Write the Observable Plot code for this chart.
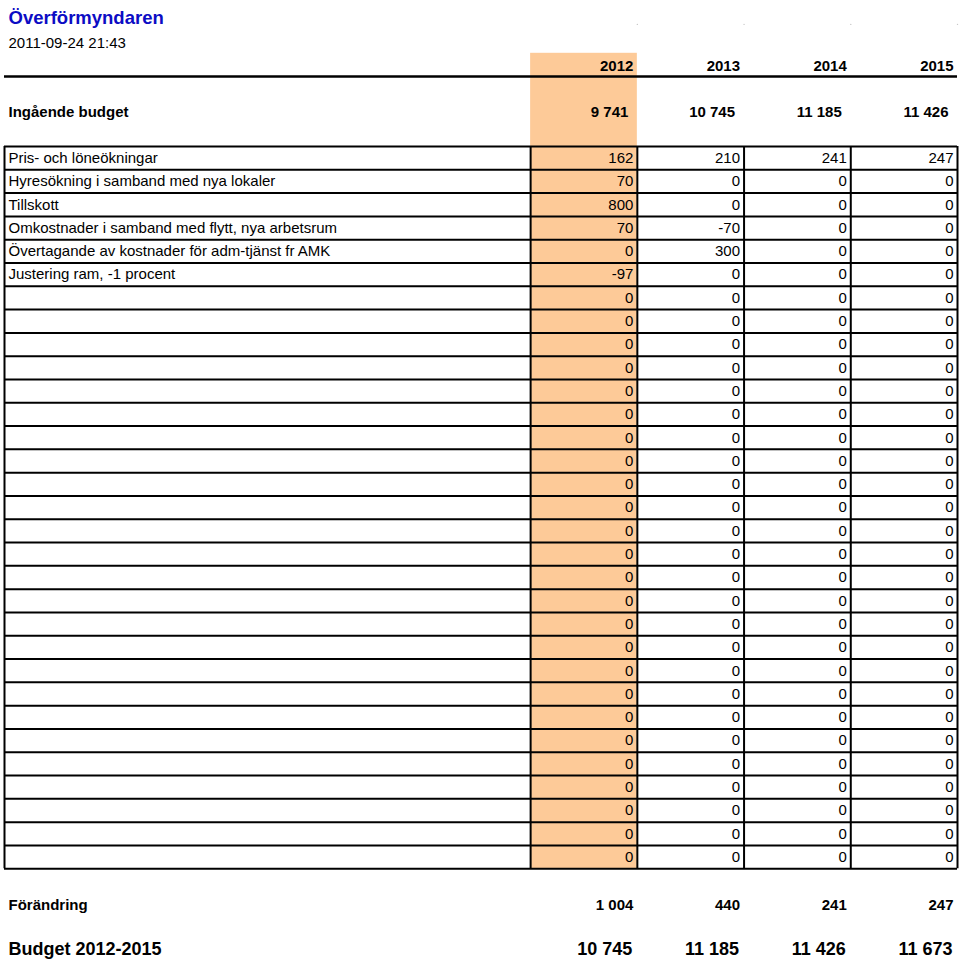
<!DOCTYPE html>
<html>
<head>
<meta charset="utf-8">
<script src="https://cdn.jsdelivr.net/npm/d3@7"></script>
<script src="https://cdn.jsdelivr.net/npm/@observablehq/plot@0.6"></script>
<style>
  html, body { margin: 0; padding: 0; background: #fff; }
  #chart svg { display: block; }
</style>
</head>
<body>
<div id="chart"></div>
<script>
// ---------- data ----------
const title = "Överförmyndaren";
const timestamp = "2011-09-24 21:43";
const years = ["2012", "2013", "2014", "2015"];
const highlightYear = "2012";

const openingLabel = "Ingående budget";
const opening = [9741, 10745, 11185, 11426];

const rowLabels = [
  "Pris- och löneökningar",
  "Hyresökning i samband med nya lokaler",
  "Tillskott",
  "Omkostnader i samband med flytt, nya arbetsrum",
  "Övertagande av kostnader för adm-tjänst fr AMK",
  "Justering ram, -1 procent",
  "", "", "", "", "", "", "", "", "", "", "", "", "", "", "", "", "", "", "", "", "", "", "", "", ""
];
const v2012 = [162, 70, 800, 70, 0, -97, 0, 0, 0, 0, 0, 0, 0, 0, 0, 0, 0, 0, 0, 0, 0, 0, 0, 0, 0, 0, 0, 0, 0, 0, 0];
const v2013 = [210, 0, 0, -70, 300, 0, 0, 0, 0, 0, 0, 0, 0, 0, 0, 0, 0, 0, 0, 0, 0, 0, 0, 0, 0, 0, 0, 0, 0, 0, 0];
const v2014 = [241, 0, 0, 0, 0, 0, 0, 0, 0, 0, 0, 0, 0, 0, 0, 0, 0, 0, 0, 0, 0, 0, 0, 0, 0, 0, 0, 0, 0, 0, 0];
const v2015 = [247, 0, 0, 0, 0, 0, 0, 0, 0, 0, 0, 0, 0, 0, 0, 0, 0, 0, 0, 0, 0, 0, 0, 0, 0, 0, 0, 0, 0, 0, 0];

const changeLabel = "Förändring";
const change = [1004, 440, 241, 247];

const closingLabel = "Budget 2012-2015";
const closing = [10745, 11185, 11426, 11673];

// ---------- layout (in table units: columns / rows) ----------
const series = [v2012, v2013, v2014, v2015];
const nRows = rowLabels.length;
const nCols = years.length;
const labelCol = -4.93;          // left edge of the label column
const titleRow = -6, dateRow = -5, headerRow = -4, openingRow = -2;
const changeRow = nRows + 1, closingRow = nRows + 3;
const hiIdx = years.indexOf(highlightYear);

const loc = d3.formatLocale({decimal: ",", thousands: " ", grouping: [3], currency: ["", ""], minus: "-"});
const fmt = loc.format(",d");

const cells = [];
series.forEach((vals, c) => vals.forEach((v, r) => cells.push({col: c, row: r, v})));
const labels = rowLabels.map((t, r) => ({row: r, t}));
const summary = (arr) => arr.map((v, c) => ({col: c, v}));

const font = "'Liberation Sans', Arial, Helvetica, sans-serif";

const chart = Plot.plot({
  width: 960,
  height: 964,
  marginLeft: 4,
  marginRight: 3,
  marginTop: 0,
  marginBottom: 0,
  style: {fontFamily: font, background: "#fff", color: "#000"},
  x: {type: "linear", domain: [labelCol, nCols], axis: null},
  y: {type: "linear", domain: [-6.266, 35.11], range: [0, 964], axis: null},
  marks: [
    // highlighted year column
    Plot.rect([hiIdx], {x1: d => d, x2: d => d + 1, y1: () => headerRow, y2: () => nRows, fill: "#fdca98"}),
    // faint marks at the top
    Plot.dot(d3.range(1, nCols + 1), {x: d => d, y: () => -5.24, r: 0.7, fill: "#c8c8c8", stroke: null}),
    // header rule
    Plot.ruleY([headerRow + 1], {y: d => d, x1: () => labelCol, x2: () => nCols, stroke: "#000", strokeWidth: 2.5}),
    // table grid
    Plot.ruleY(d3.range(nRows + 1), {y: d => d, x1: () => labelCol, x2: () => nCols, stroke: "#000", strokeWidth: 2}),
    Plot.ruleX([labelCol, ...d3.range(nCols + 1)], {x: d => d, y1: () => 0, y2: () => nRows, stroke: "#000", strokeWidth: 2}),
    // title + date
    Plot.text([title], {x: () => labelCol, y: () => titleRow + 0.5, text: d => d, textAnchor: "start", dx: 4,
      fontSize: 18.5, fontWeight: "bold", fill: "#0c0cc4"}),
    Plot.text([timestamp], {x: () => labelCol, y: () => dateRow + 0.5, text: d => d, textAnchor: "start", dx: 4, dy: 2,
      fontSize: 15, fill: "#000"}),
    // year headers
    Plot.text(years, {x: (d, i) => i + 1, y: () => headerRow + 0.5, text: d => d, textAnchor: "end", dx: -4, dy: 1,
      fontSize: 15, fontWeight: "bold", fill: "#000"}),
    // opening budget
    Plot.text([openingLabel], {x: () => labelCol, y: () => openingRow + 0.5, text: d => d, textAnchor: "start", dx: 4, dy: 1,
      fontSize: 15, fontWeight: "bold", fill: "#000"}),
    Plot.text(summary(opening), {x: d => d.col + 1, y: () => openingRow + 0.5, text: d => fmt(d.v), textAnchor: "end", dx: -9, dy: 1,
      fontSize: 15, fontWeight: "bold", fill: "#000"}),
    // table rows
    Plot.text(labels, {x: () => labelCol, y: d => d.row + 0.5, text: d => d.t, textAnchor: "start", dx: 4,
      fontSize: 15, fill: "#000"}),
    Plot.text(cells, {x: d => d.col + 1, y: d => d.row + 0.5, text: d => fmt(d.v), textAnchor: "end", dx: -4,
      fontSize: 15, fill: "#000"}),
    // change
    Plot.text([changeLabel], {x: () => labelCol, y: () => changeRow + 0.5, text: d => d, textAnchor: "start", dx: 4, dy: 1,
      fontSize: 15, fontWeight: "bold", fill: "#000"}),
    Plot.text(summary(change), {x: d => d.col + 1, y: () => changeRow + 0.5, text: d => fmt(d.v), textAnchor: "end", dx: -4, dy: 1,
      fontSize: 15, fontWeight: "bold", fill: "#000"}),
    // closing budget
    Plot.text([closingLabel], {x: () => labelCol, y: () => closingRow + 0.5, text: d => d, textAnchor: "start", dx: 4, dy: -1,
      fontSize: 18, fontWeight: "bold", fill: "#000"}),
    Plot.text(summary(closing), {x: d => d.col + 1, y: () => closingRow + 0.5, text: d => fmt(d.v), textAnchor: "end", dx: -5, dy: -1,
      fontSize: 18, fontWeight: "bold", fill: "#000"})
  ]
});
document.getElementById("chart").appendChild(chart);
</script>
</body>
</html>
